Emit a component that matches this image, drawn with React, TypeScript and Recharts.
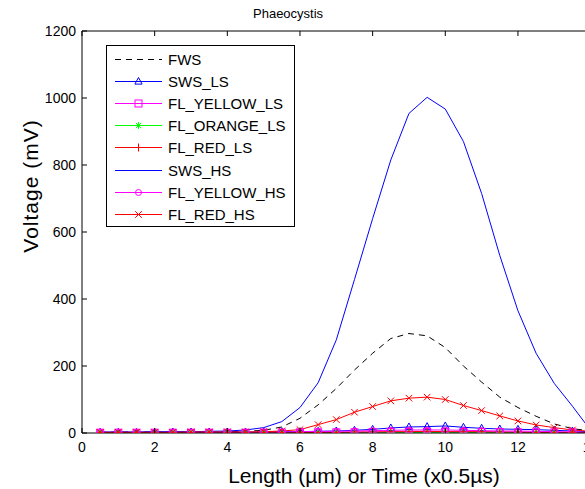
import React from 'react';
import { LineChart, Line, XAxis, YAxis, Legend } from 'recharts';

const xValues = [0.5, 1, 1.5, 2, 2.5, 3, 3.5, 4, 4.5, 5, 5.5, 6, 6.5, 7, 7.5, 8, 8.5, 9, 9.5, 10, 10.5, 11, 11.5, 12, 12.5, 13, 13.5, 14];
const FWS = [2, 3, 3, 3, 3, 4, 4, 4, 5, 8, 18, 44, 84, 133, 188, 238, 282, 297, 290, 255, 200, 152, 107, 76, 50, 27, 13, 6];
const SWS_LS = [2, 2, 2, 2, 3, 3, 3, 3, 3, 3, 4, 4, 5, 6, 8, 11, 15, 18, 19, 21, 17, 14, 12, 11, 10, 8, 6, 4];
const FL_YELLOW_LS = [1, 1, 1, 1, 1, 1, 1, 1, 1, 1, 1, 2, 2, 2, 2, 3, 3, 3, 3, 3, 3, 3, 3, 2, 2, 2, 2, 1];
const FL_ORANGE_LS = [0, 0, 0, 0, 0, 0, 0, 0, 0, 0, 0, 0, 0, 0, 0, 0, 1, 1, 1, 1, 1, 1, 1, 0, 0, 0, 0, 0];
const FL_RED_LS = [1, 1, 1, 1, 1, 1, 1, 1, 1, 1, 1, 1, 2, 2, 3, 3, 4, 4, 5, 4, 4, 4, 3, 3, 2, 2, 2, 1];
const SWS_HS = [3, 3, 3, 4, 4, 4, 5, 6, 9, 16, 34, 76, 150, 278, 458, 640, 815, 954, 1002, 967, 870, 715, 530, 365, 238, 148, 80, 8];
const FL_YELLOW_HS = [2, 2, 2, 2, 2, 2, 2, 2, 2, 3, 3, 4, 5, 5, 6, 7, 8, 9, 9, 9, 8, 7, 6, 6, 5, 4, 3, 2];
const FL_RED_HS = [2, 2, 2, 2, 2, 3, 3, 3, 3, 4, 6, 10, 25, 40, 62, 79, 96, 104, 107, 100, 82, 67, 51, 36, 24, 16, 9, 5];
const xTicks = [0, 2, 4, 6, 8, 10, 12, 14];
const yTicks = [0, 200, 400, 600, 800, 1000, 1200];

const data = xValues.map((x, i) => ({
  x,
  FWS: FWS[i],
  SWS_LS: SWS_LS[i],
  FL_YELLOW_LS: FL_YELLOW_LS[i],
  FL_ORANGE_LS: FL_ORANGE_LS[i],
  FL_RED_LS: FL_RED_LS[i],
  SWS_HS: SWS_HS[i],
  FL_YELLOW_HS: FL_YELLOW_HS[i],
  FL_RED_HS: FL_RED_HS[i],
}));

const FONT = '"Liberation Sans", Arial, Helvetica, sans-serif';
const TICK_LEN = 5;

type MarkerKind = 'none' | 'triangle' | 'square' | 'star' | 'plus' | 'circle' | 'cross';

function Marker({ kind, cx, cy, color }: { kind: MarkerKind; cx: number; cy: number; color: string }) {
  const s = 3.5;
  switch (kind) {
    case 'triangle':
      return <polygon points={`${cx},${cy - 4} ${cx - 3.6},${cy + 2.6} ${cx + 3.6},${cy + 2.6}`} fill="none" stroke={color} strokeWidth={1} />;
    case 'square':
      return <rect x={cx - s} y={cy - s} width={2 * s} height={2 * s} fill="none" stroke={color} strokeWidth={1} />;
    case 'star':
      return (
        <g stroke={color} strokeWidth={1}>
          <line x1={cx - s} y1={cy} x2={cx + s} y2={cy} />
          <line x1={cx} y1={cy - s} x2={cx} y2={cy + s} />
          <line x1={cx - 2.6} y1={cy - 2.6} x2={cx + 2.6} y2={cy + 2.6} />
          <line x1={cx - 2.6} y1={cy + 2.6} x2={cx + 2.6} y2={cy - 2.6} />
        </g>
      );
    case 'plus':
      return (
        <g stroke={color} strokeWidth={1}>
          <line x1={cx - s} y1={cy} x2={cx + s} y2={cy} />
          <line x1={cx} y1={cy - s - 0.5} x2={cx} y2={cy + s + 0.5} />
        </g>
      );
    case 'circle':
      return <circle cx={cx} cy={cy} r={3} fill="none" stroke={color} strokeWidth={1} />;
    case 'cross':
      return (
        <g stroke={color} strokeWidth={1}>
          <line x1={cx - 3.3} y1={cy - 3.3} x2={cx + 3.3} y2={cy + 3.3} />
          <line x1={cx - 3.3} y1={cy + 3.3} x2={cx + 3.3} y2={cy - 3.3} />
        </g>
      );
    default:
      return null;
  }
}

const series: { key: string; color: string; marker: MarkerKind; dash?: string }[] = [
  { key: 'FWS', color: '#000000', marker: 'none', dash: '6 5' },
  { key: 'SWS_LS', color: '#0000ff', marker: 'triangle' },
  { key: 'FL_YELLOW_LS', color: '#ff00ff', marker: 'square' },
  { key: 'FL_ORANGE_LS', color: '#00ff00', marker: 'star' },
  { key: 'FL_RED_LS', color: '#ff0000', marker: 'plus' },
  { key: 'SWS_HS', color: '#0000ff', marker: 'none' },
  { key: 'FL_YELLOW_HS', color: '#ff00ff', marker: 'circle' },
  { key: 'FL_RED_HS', color: '#ff0000', marker: 'cross' },
];

function makeDot(kind: MarkerKind, color: string) {
  if (kind === 'none') return false;
  return (props: any) => {
    const { cx, cy, index } = props;
    if (cx == null || cy == null) return <g key={`m-${index}`} />;
    return (
      <g key={`m-${index}`}>
        <Marker kind={kind} cx={cx} cy={cy} color={color} />
      </g>
    );
  };
}

function LegendBox(props: any) {
  const payload: any[] = props.payload || [];
  const items = series.map((s) => {
    const p = payload.find((e) => e.dataKey === s.key);
    return { ...s, label: p && p.value ? p.value : s.key };
  });
  return (
    <svg width={190} height={183} style={{ display: 'block' }}>
      <rect x={0.5} y={0.5} width={188} height={181} fill="#ffffff" stroke="#000000" strokeWidth={1} />
      {items.map((it, i) => {
        const y = Math.round(14 + i * 22.1) + 0.5;
        return (
          <g key={it.key}>
            <line x1={9} y1={y} x2={56} y2={y} stroke={it.color} strokeWidth={1} strokeDasharray={it.dash} />
            <Marker kind={it.marker} cx={32.5} cy={y} color={it.color} />
            <text x={62} y={y + 5.5} fontSize={15} fontFamily={FONT} fill="#000000">
              {it.label}
            </text>
          </g>
        );
      })}
    </svg>
  );
}

function BottomTick(props: any) {
  const { x, y, payload } = props;
  const axisY = y - 13;
  return (
    <g>
      <line x1={x} y1={axisY} x2={x} y2={axisY - TICK_LEN} stroke="#000" strokeWidth={1} />
      <text x={x} y={axisY + 19} textAnchor="middle" fontSize={14} fontFamily={FONT} fill="#000">
        {payload.value}
      </text>
    </g>
  );
}

function LeftTick(props: any) {
  const { x, y, payload } = props;
  const axisX = x + 6;
  return (
    <g>
      <line x1={axisX} y1={y} x2={axisX + TICK_LEN} y2={y} stroke="#000" strokeWidth={1} />
      <text x={axisX - 6} y={y + 5} textAnchor="end" fontSize={14} fontFamily={FONT} fill="#000">
        {payload.value}
      </text>
    </g>
  );
}

function TopTick(props: any) {
  const { x, y } = props;
  return <line x1={x} y1={y} x2={x} y2={y + TICK_LEN} stroke="#000" strokeWidth={1} />;
}

function RightTick(props: any) {
  const { x, y } = props;
  return <line x1={x} y1={y} x2={x - TICK_LEN} y2={y} stroke="#000" strokeWidth={1} />;
}

export default function App() {
  return (
    <div style={{ position: 'fixed', left: 0, top: 0, width: 585, height: 489, overflow: 'hidden', background: '#ffffff' }}>
      <LineChart
        width={620}
        height={489}
        data={data}
        margin={{ top: 30, right: 28.4, bottom: 26, left: 0 }}
        style={{ fontFamily: FONT }}
      >
        <XAxis
          xAxisId="bottom"
          dataKey="x"
          type="number"
          domain={[0, 14]}
          ticks={xTicks}
          allowDataOverflow
          height={30}
          tickSize={0}
          tickMargin={13}
          tickLine={false}
          stroke="#000"
          tick={<BottomTick />}
          interval={0}
        />
        <XAxis
          xAxisId="top"
          orientation="top"
          dataKey="x"
          type="number"
          domain={[0, 14]}
          ticks={xTicks}
          allowDataOverflow
          height={1}
          tickSize={0}
          tickMargin={0}
          tickLine={false}
          stroke="#000"
          tick={<TopTick />}
          interval={0}
        />
        <YAxis
          yAxisId="left"
          type="number"
          domain={[0, 1200]}
          ticks={yTicks}
          allowDataOverflow
          width={82}
          tickSize={0}
          tickMargin={6}
          tickLine={false}
          stroke="#000"
          tick={<LeftTick />}
          interval={0}
        />
        <YAxis
          yAxisId="right"
          orientation="right"
          type="number"
          domain={[0, 1200]}
          ticks={yTicks}
          allowDataOverflow
          width={1}
          tickSize={0}
          tickMargin={0}
          tickLine={false}
          stroke="#000"
          tick={<RightTick />}
          interval={0}
        />
        <Legend
          layout="vertical"
          align="center"
          verticalAlign="middle"
          content={<LegendBox />}
          wrapperStyle={{ left: 106, top: 45, width: 190, height: 183 }}
        />
        <Line
          xAxisId="top"
          yAxisId="right"
          dataKey="FWS"
          name="frame"
          stroke="none"
          dot={false}
          activeDot={false}
          legendType="none"
          isAnimationActive={false}
        />
        {series.map((s) => (
          <Line
            key={s.key}
            xAxisId="bottom"
            yAxisId="left"
            type="linear"
            dataKey={s.key}
            name={s.key}
            stroke={s.color}
            strokeWidth={1}
            strokeDasharray={s.dash}
            dot={makeDot(s.marker, s.color) as any}
            activeDot={false}
            isAnimationActive={false}
            legendType="line"
          />
        ))}
      </LineChart>
      <svg width={585} height={489} style={{ position: 'absolute', left: 0, top: 0, pointerEvents: 'none' }}>
        <text x={253} y={18} fontSize={13} fontFamily={FONT} fill="#000">
          Phaeocystis
        </text>
        <text x={364} y={483} fontSize={21} fontFamily={FONT} fill="#000" textAnchor="middle">
          Length (µm) or Time (x0.5µs)
        </text>
        <text x={38} y={186} fontSize={21} fontFamily={FONT} fill="#000" textAnchor="middle" letterSpacing={1} transform="rotate(-90 38 186)">
          Voltage (mV)
        </text>
      </svg>
    </div>
  );
}
